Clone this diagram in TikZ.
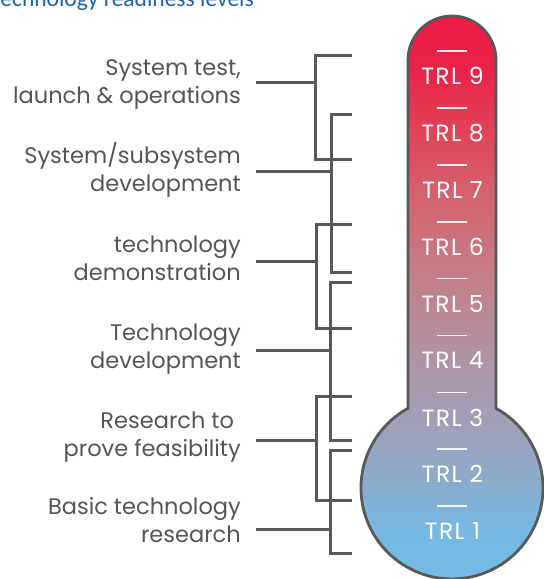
\documentclass[tikz,border=0pt]{standalone}
\usepackage{fontspec}
\setmainfont{Poppins}
\newfontfamily\titlefont{Carlito}
\newfontfamily\levelfont[LetterSpace=6]{Poppins}

\definecolor{linegray}{RGB}{88,88,88}
\definecolor{labelgray}{RGB}{85,85,85}
\definecolor{titleblue}{RGB}{30,98,170}

% thermometer colour ramp, bottom (blue) to top (red)
\definecolor{th0}{RGB}{116,187,231}
\definecolor{th1}{RGB}{118,184,228}
\definecolor{th2}{RGB}{137,172,205}
\definecolor{th3}{RGB}{160,160,184}
\definecolor{th4}{RGB}{172,150,168}
\definecolor{th5}{RGB}{188,136,148}
\definecolor{th6}{RGB}{200,118,128}
\definecolor{th7}{RGB}{212,98,110}
\definecolor{th8}{RGB}{224,70,90}
\definecolor{th9}{RGB}{234,35,72}
\definecolor{th10}{RGB}{237,27,69}
\pgfdeclareverticalshading{thermofill}{100bp}{%
  color(0bp)=(th0); color(25bp)=(th0); color(30.24bp)=(th1);
  color(34.33bp)=(th2); color(39.39bp)=(th3); color(44.45bp)=(th4);
  color(49.51bp)=(th5); color(54.48bp)=(th6); color(59.55bp)=(th7);
  color(64.61bp)=(th8); color(70.2bp)=(th9); color(75bp)=(th10);
  color(100bp)=(th10)}

\tikzset{
  conn/.style={draw=linegray, line width=3pt},
  phase/.style={anchor=base east, inner sep=0pt, text=labelgray,
    font=\fontsize{22.5}{28}\selectfont},
  level/.style={inner sep=0pt, text=white,
    font=\levelfont\fontsize{23.5}{26}\selectfont},
  tick/.style={draw=white, line width=1.7pt, draw opacity=0.9},
  glass/.style={draw=linegray, line width=2.8pt, shading=thermofill},
}
\newcommand\phasetext[1]{\begin{tabular}[t]{@{}r@{}}#1\end{tabular}}

\begin{document}
\begin{tikzpicture}[x=1pt, y=-1pt]
\useasboundingbox (0,0) rectangle (544,579);

% heading, partly cut by the top-left corner
\node (title) [anchor=base east, inner sep=0pt, text=titleblue,
  font=\titlefont\fontsize{23.5}{28}\selectfont] at (254,6.5)
  {Technology readiness levels};

% thermometer: tube with round top and a bulb at the bottom
\shadedraw[glass] (408,408.3) -- (408,60)
  arc[start angle=180, end angle=360, radius=44]
  -- (496,408.3)
  arc[start angle=-61.08, end angle=241.08, radius=91] -- cycle;

% level ticks and level names
\foreach \k in {0,...,8}{
  \pgfmathsetmacro\ty{51+56.9*\k}
  \draw[tick] (437,\ty) -- (467,\ty);
}
\foreach \n [count=\k from 0] in {9,8,7,6,5,4,3,2,1}{
  \node[level] (trl\n) at (452.5,{76+56.9*\k}) {TRL \n};
}

% phase labels
\node[phase] (p1) at (241,75)  {\phasetext{System test,\\launch \& operations}};
\node[phase] (p2) at (241,163) {\phasetext{System/subsystem\\development}};
\node[phase] (p3) at (241,252) {\phasetext{technology\\demonstration}};
\node[phase] (p4) at (241,340) {\phasetext{Technology\\development}};
\node[phase] (p5) at (241,428) {\phasetext{Research to\hspace*{0.3em}\\prove feasibility}};
\node[phase] (p6) at (241,514) {\phasetext{Basic technology\\research}};

% bracket end points: label side, spine, upper and lower level
\coordinate (a-l) at (256,82);  \coordinate (a-s) at (315,82);
\coordinate (a-t) at (352,55);  \coordinate (a-b) at (352,159);
\coordinate (b-l) at (256,171); \coordinate (b-s) at (331,171);
\coordinate (b-t) at (352,114); \coordinate (b-b) at (352,272);
\coordinate (c-l) at (256,261); \coordinate (c-s) at (316,261);
\coordinate (c-t) at (352,224); \coordinate (c-b) at (352,328);
\coordinate (d-l) at (256,350); \coordinate (d-s) at (330,350);
\coordinate (d-t) at (352,282); \coordinate (d-b) at (352,440);
\coordinate (e-l) at (256,440); \coordinate (e-s) at (316,440);
\coordinate (e-t) at (352,396); \coordinate (e-b) at (352,500);
\coordinate (f-l) at (256,529); \coordinate (f-s) at (330,529);
\coordinate (f-t) at (352,450); \coordinate (f-b) at (352,553);

\foreach \g in {a,b,c,d,e,f}{
  \draw[conn] (\g-t) -| (\g-s) |- (\g-b);
  \draw[conn] (\g-l) -- (\g-s);
}
\end{tikzpicture}
\end{document}
